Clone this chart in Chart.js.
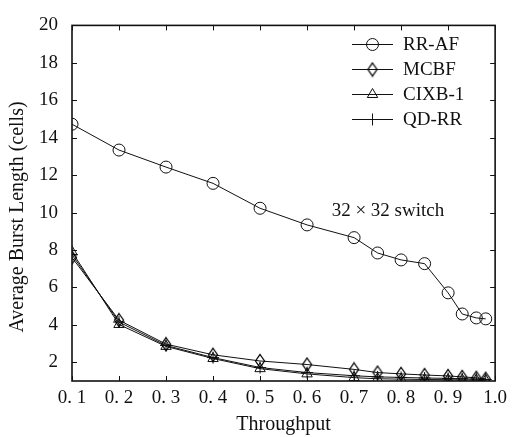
<!DOCTYPE html>
<html><head><meta charset="utf-8">
<script src="https://cdn.jsdelivr.net/npm/chart.js@4.4.0/dist/chart.umd.min.js"></script>
<style>html,body{margin:0;padding:0;background:#fff;}#wrap{width:513px;height:437px;}</style>
</head><body><div id="wrap"><canvas id="c" width="513" height="437"></canvas></div>
<script>
const throughput = [0.1, 0.2, 0.3, 0.4, 0.5, 0.6, 0.7, 0.75, 0.8, 0.85, 0.9, 0.93, 0.96, 0.98];
const rrAF  = [14.72, 13.34, 12.43, 11.56, 10.23, 9.34, 8.66, 7.84, 7.47, 7.27, 5.71, 4.58, 4.37, 4.32];
const mcbf  = [7.6, 4.25, 2.97, 2.4, 2.07, 1.88, 1.62, 1.45, 1.38, 1.32, 1.27, 1.22, 1.17, 1.12];
const cixb1 = [7.9, 4.02, 2.85, 2.2, 1.66, 1.38, 1.18, 1.12, 1.1, 1.08, 1.07, 1.06, 1.05, 1.03];
const qdrr  = [7.75, 4.15, 2.9, 2.25, 1.72, 1.45, 1.28, 1.22, 1.19, 1.16, 1.14, 1.12, 1.1, 1.08];
const seriesNames = ["RR-AF", "MCBF", "CIXB-1", "QD-RR"];
const xTickValues = [0.1, 0.2, 0.3, 0.4, 0.5, 0.6, 0.7, 0.8, 0.9, 1.0];
const xTickLabels = ["0. 1", "0. 2", "0. 3", "0. 4", "0. 5", "0. 6", "0. 7", "0. 8", "0. 9", "1.0"];
const yTickValues = [2, 4, 6, 8, 10, 12, 14, 16, 18, 20];
const xTitle = "Throughput";
const yTitle = "Average Burst Length (cells)";
const annotationText = "32 × 32 switch";

const INK = '#111';
const SERIF = "'Liberation Serif', 'Times New Roman', 'DejaVu Serif', serif";

function makeDiamond() {
  const c = document.createElement('canvas');
  c.width = 12; c.height = 16;
  const g = c.getContext('2d');
  g.strokeStyle = '#000'; g.lineWidth = 1.3;
  g.beginPath(); g.moveTo(6, 1.5); g.lineTo(10.5, 8); g.lineTo(6, 14.5); g.lineTo(1.5, 8); g.closePath();
  g.stroke();
  return c;
}
const diamond = makeDiamond();
const styles = ['circle', diamond, 'triangle', 'cross'];
const radii = [6, 6, 6, 6];
const allSeries = [rrAF, mcbf, cixb1, qdrr];

const datasets = allSeries.map((vals, i) => ({
  label: seriesNames[i],
  data: throughput.map((x, j) => ({x: x, y: vals[j]})),
  borderColor: INK,
  borderWidth: 1,
  pointStyle: styles[i],
  pointRadius: radii[i],
  pointBorderColor: INK,
  pointBorderWidth: 1,
  pointBackgroundColor: 'rgba(0,0,0,0)',
  fill: false,
  tension: 0
}));

const decor = {
  id: 'decor',
  afterDraw(chart) {
    const {ctx, chartArea: a, scales: {x, y}} = chart;
    ctx.save();
    ctx.strokeStyle = INK;
    ctx.lineWidth = 1.6;
    ctx.strokeRect(a.left, a.top, a.right - a.left, a.bottom - a.top);
    ctx.lineWidth = 1;
    const L = 5;
    const line = (x1, y1, x2, y2) => { ctx.beginPath(); ctx.moveTo(x1, y1); ctx.lineTo(x2, y2); ctx.stroke(); };
    x.ticks.forEach(t => {
      const px = Math.round(x.getPixelForValue(t.value)) + 0.5;
      line(px, a.bottom, px, a.bottom - L);
      line(px, a.top, px, a.top + L);
    });
    y.ticks.forEach(t => {
      const py = Math.round(y.getPixelForValue(t.value)) + 0.5;
      line(a.left, py, a.left + L, py);
      line(a.right, py, a.right - L, py);
    });
    // legend
    ctx.font = '19px ' + SERIF;
    ctx.textBaseline = 'middle';
    ctx.textAlign = 'left';
    seriesNames.forEach((name, i) => {
      const ly = 44.5 + 25 * i;
      ctx.lineWidth = 1;
      ctx.strokeStyle = INK;
      line(352, ly, 393, ly);
      ctx.fillStyle = 'rgba(0,0,0,0)';
      Chart.helpers.drawPoint(ctx, {pointStyle: styles[i], radius: radii[i], rotation: 0, borderWidth: 1}, 372.5, ly);
      ctx.fillStyle = INK;
      ctx.fillText(name, 403, ly + 1);
    });
    // annotation
    ctx.fillStyle = INK;
    ctx.textAlign = 'center';
    ctx.fillText(annotationText, x.getPixelForValue(0.772), y.getPixelForValue(10.06));
    // y title
    ctx.save();
    ctx.translate(18, 217);
    ctx.rotate(-Math.PI / 2);
    ctx.font = '20px ' + SERIF;
    ctx.textAlign = 'center';
    ctx.fillText(yTitle, 0, 0);
    ctx.restore();
    ctx.restore();
  }
};

new Chart(document.getElementById('c'), {
  type: 'line',
  data: {datasets},
  options: {
    responsive: false,
    animation: false,
    devicePixelRatio: 1,
    layout: {padding: {top: 13, right: 16, left: 0, bottom: 0}},
    plugins: {legend: {display: false}, tooltip: {enabled: false}},
    scales: {
      x: {
        type: 'linear', min: 0.1, max: 1.0,
        afterBuildTicks: s => { s.ticks = xTickValues.map(v => ({value: v})); },
        afterFit: s => { s.height = 56; },
        grid: {display: false, drawTicks: false},
        border: {display: false},
        ticks: {
          padding: 6, color: INK, font: {family: SERIF, size: 19}, maxRotation: 0, autoSkip: false,
          callback: (v, i) => xTickLabels[i]
        },
        title: {display: true, text: xTitle, color: INK, font: {family: SERIF, size: 20}, padding: {top: 0, bottom: 0}}
      },
      y: {
        type: 'linear', min: 1, max: 20,
        afterBuildTicks: s => { s.ticks = yTickValues.map(v => ({value: v})); },
        afterFit: s => { s.width = 72; },
        grid: {display: false, drawTicks: false},
        border: {display: false},
        ticks: {padding: 14, color: INK, font: {family: SERIF, size: 19}},
        title: {display: false}
      }
    }
  },
  plugins: [decor]
});
</script>
</body></html>
